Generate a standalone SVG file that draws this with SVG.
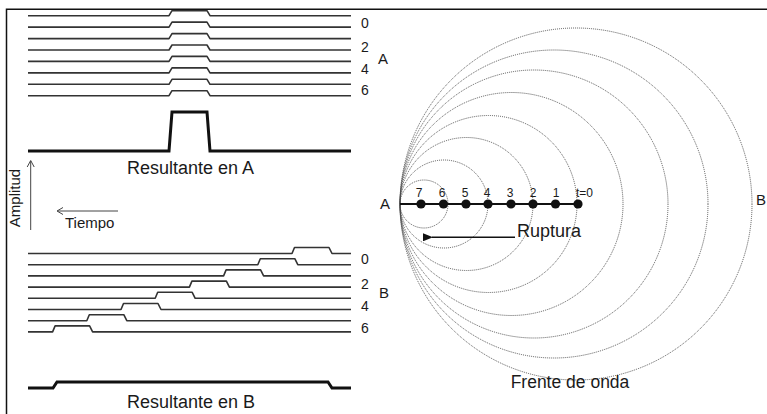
<svg xmlns="http://www.w3.org/2000/svg" width="767" height="414" viewBox="0 0 767 414">
<defs>
<style>
text{font-family:"Liberation Sans",Arial,sans-serif;fill:#1a1a1a}
.tr{fill:none;stroke:#333;stroke-width:1.6;stroke-linejoin:round}
.res{fill:none;stroke:#111;stroke-width:3;stroke-linejoin:miter}
.lbl{font-size:14px}
.grp{font-size:15px}
.big{font-size:18px}
.circ{fill:none;stroke:#444;stroke-width:0.9;stroke-dasharray:1 1}
.dot{fill:#111}
.dl{font-size:12px;text-anchor:middle}
.ax{fill:none;stroke:#444;stroke-width:1}
</style>
<marker id="ah" markerWidth="10" markerHeight="8" refX="1" refY="4" orient="auto" markerUnits="userSpaceOnUse">
<path d="M10,0 L0,4 L10,8 Z" fill="#111"/>
</marker>
</defs>
<rect width="767" height="414" fill="#fff"/>
<g id="frame">
<path d="M6.5,414 V9.3 H767" fill="none" stroke="#111" stroke-width="1.5"/>
</g>
<g id="traces-A">
<path class="tr" d="M28,15.7 H169 L172,10.7 H207 L210,15.7 H351"/>
<path class="tr" d="M28,27.1 H169 L172,22.1 H207 L210,27.1 H351"/>
<path class="tr" d="M28,38.6 H169 L172,33.6 H207 L210,38.6 H351"/>
<path class="tr" d="M28,50 H169 L172,45 H207 L210,50 H351"/>
<path class="tr" d="M28,61.4 H169 L172,56.4 H207 L210,61.4 H351"/>
<path class="tr" d="M28,72.9 H169 L172,67.9 H207 L210,72.9 H351"/>
<path class="tr" d="M28,84.3 H169 L172,79.3 H207 L210,84.3 H351"/>
<path class="tr" d="M28,95.7 H169 L172,90.7 H207 L210,95.7 H351"/>
<text class="lbl" x="361" y="27.5">0</text>
<text class="lbl" x="361" y="51.5">2</text>
<text class="lbl" x="361" y="73.5">4</text>
<text class="lbl" x="361" y="94.5">6</text>
<text class="grp" x="378" y="64">A</text>
</g>
<g id="resultante-A">
<path class="res" d="M28,151 H169 L172,112 H207 L210,151 H351"/>
<text class="big" x="190.5" y="174" text-anchor="middle">Resultante en A</text>
</g>
<g id="axes">
<path class="ax" d="M30.7,230 V161 M27.2,167 L30.7,160.5 L34.2,167"/>
<text font-size="15" transform="translate(19.5,198) rotate(-90)" text-anchor="middle">Amplitud</text>
<path class="ax" d="M118,211 H57.5 M63,207.5 L57,211 L63,214.5"/>
<text font-size="15" x="65" y="227.5">Tiempo</text>
</g>
<g id="traces-B">
<path class="tr" d="M28,253.5 H292 L294.5,247.5 H329 L332,253.5 H351"/>
<path class="tr" d="M28,264.7 H257.8 L260.3,258.7 H294.8 L297.8,264.7 H351"/>
<path class="tr" d="M28,275.9 H223.6 L226.1,269.9 H260.6 L263.6,275.9 H351"/>
<path class="tr" d="M28,287.1 H189.4 L191.9,281.1 H226.4 L229.4,287.1 H351"/>
<path class="tr" d="M28,298.3 H155.2 L157.7,292.3 H192.2 L195.2,298.3 H351"/>
<path class="tr" d="M28,309.5 H121 L123.5,303.5 H158 L161,309.5 H351"/>
<path class="tr" d="M28,320.7 H86.8 L89.3,314.7 H123.8 L126.8,320.7 H351"/>
<path class="tr" d="M28,331.9 H52.6 L55.1,325.9 H89.6 L92.6,331.9 H351"/>
<text class="lbl" x="361" y="263.5">0</text>
<text class="lbl" x="361" y="288.5">2</text>
<text class="lbl" x="361" y="310.5">4</text>
<text class="lbl" x="361" y="332.5">6</text>
<text class="grp" x="379" y="297.5">B</text>
</g>
<g id="resultante-B">
<path class="res" d="M28,388 H53 L57,382 H328 L332,388 H351"/>
<text class="big" x="191" y="408" text-anchor="middle">Resultante en B</text>
</g>
<g id="wavefronts">
<circle class="circ" cx="424" cy="204" r="24"/>
<circle class="circ" cx="444" cy="204" r="44"/>
<circle class="circ" cx="466.5" cy="204" r="66.5"/>
<circle class="circ" cx="488.5" cy="204" r="88.5"/>
<circle class="circ" cx="511.5" cy="204" r="111.5"/>
<circle class="circ" cx="534" cy="204" r="134"/>
<circle class="circ" cx="554" cy="204" r="154"/>
<circle class="circ" cx="576" cy="204" r="176"/>
<text font-size="17.5" x="570" y="388" text-anchor="middle">Frente de onda</text>
<text class="grp" x="756" y="205">B</text>
</g>
<g id="rupture-line">
<text class="grp" x="380" y="209">A</text>
<path d="M400,204 H578" stroke="#111" stroke-width="2"/>
<circle class="dot" cx="421" cy="204" r="4.6"/>
<circle class="dot" cx="443.5" cy="204" r="4.6"/>
<circle class="dot" cx="466" cy="204" r="4.6"/>
<circle class="dot" cx="488" cy="204" r="4.6"/>
<circle class="dot" cx="511" cy="204" r="4.6"/>
<circle class="dot" cx="533" cy="204" r="4.6"/>
<circle class="dot" cx="555.5" cy="204" r="4.6"/>
<circle class="dot" cx="578" cy="204" r="4.6"/>
<text class="dl" x="419" y="197">7</text>
<text class="dl" x="442" y="197">6</text>
<text class="dl" x="465" y="197">5</text>
<text class="dl" x="487" y="197">4</text>
<text class="dl" x="510" y="197">3</text>
<text class="dl" x="533" y="197">2</text>
<text class="dl" x="556" y="197">1</text>
<text class="dl" x="584.5" y="197">t=0</text>
</g>
<g id="connectors">
<path d="M515,237.3 H432" stroke="#111" stroke-width="1.6" marker-end="url(#ah)"/>
<text class="big" x="517" y="236.5">Ruptura</text>
</g>
</svg>
